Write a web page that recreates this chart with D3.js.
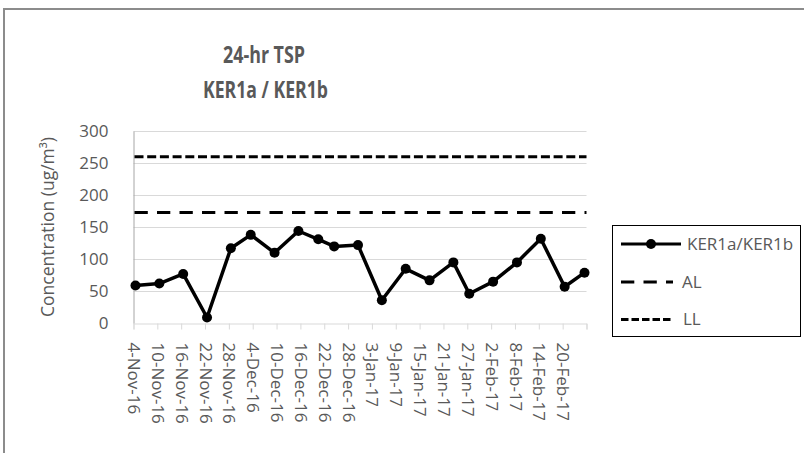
<!DOCTYPE html>
<html>
<head>
<meta charset="utf-8">
<script src="https://cdn.jsdelivr.net/npm/d3@7"></script>
<style>
    body { margin: 0; background: #fff; }
    svg { display: block; }
    text { font-family: "Open Sans", sans-serif; fill: #595959; }
</style>
</head>
<body>
<div class="chart__container"></div>
<script>
/*-------------------------------data-------------------------------*/

const sampleDates = ["2016-11-04", "2016-11-10", "2016-11-16", "2016-11-22", "2016-11-28",
    "2016-12-03", "2016-12-09", "2016-12-15", "2016-12-20", "2016-12-24", "2016-12-30",
    "2017-01-05", "2017-01-11", "2017-01-17", "2017-01-23", "2017-01-27",
    "2017-02-02", "2017-02-08", "2017-02-14", "2017-02-20", "2017-02-25"]

const tspValues = [59, 62, 77, 9, 117, 138, 110, 144, 131, 120, 122, 36, 85, 67, 95, 46, 65, 95, 132, 57, 79]

const limitNames = ["AL", "LL"]
const limitValues = [173, 260]

const yTicks = [0, 50, 100, 150, 200, 250, 300]

const axisStart = "2016-11-04"
const axisEnd = "2017-02-26"
const tickStepDays = 6

/*-------------------------------init-------------------------------*/

const size = { width: 804, height: 453 }
const plot = { left: 133.5, right: 586.5, top: 131, bottom: 323.3 }

const parse = d3.utcParse("%Y-%m-%d")
const fmt = d3.utcFormat("%-d-%b-%y")

const svg = d3.select(".chart__container").append("svg")
    .attr("width", size.width).attr("height", size.height)

// chart border
svg.append("rect")
    .attr("x", 4).attr("y", 9)
    .attr("width", 900).attr("height", 600)
    .attr("fill", "none").attr("stroke", "#8c8c8c").attr("stroke-width", 2)

const x = d3.scaleUtc().domain([parse(axisStart), parse(axisEnd)]).range([plot.left, plot.right])
const y = d3.scaleLinear().domain([0, 300]).range([plot.bottom, plot.top])

const tickDates = d3.range(0, 20).map(i => d3.utcDay.offset(parse(axisStart), i * tickStepDays))

/*-------------------------------axes-------------------------------*/

// gridlines
svg.append("g")
    .selectAll("line")
    .data(yTicks.slice(1))
    .enter()
    .append("line")
    .attr("x1", plot.left).attr("x2", plot.right)
    .attr("y1", d => Math.round(y(d)) + 0.5).attr("y2", d => Math.round(y(d)) + 0.5)
    .attr("stroke", "#d9d9d9")

const yAxis = svg.append("g")
    .attr("transform", `translate(${plot.left},0)`)
    .call(d3.axisLeft(y).tickValues(yTicks).tickSize(0).tickPadding(25))
yAxis.select(".domain").attr("stroke", "#a6a6a6")
yAxis.selectAll("text").style("font-size", "17px").attr("fill", "#595959")

const xAxis = svg.append("g")
    .attr("transform", `translate(0,${Math.round(plot.bottom) + 0.5})`)
    .call(d3.axisBottom(x).tickValues(tickDates).tickSize(6)
        .tickFormat((d, i) => i < tickDates.length - 1 ? fmt(d) : ""))
xAxis.select(".domain").attr("stroke", "#d9d9d9")
xAxis.selectAll(".tick line").attr("stroke", "#d9d9d9")
xAxis.selectAll("text")
    .style("font-size", "17px")
    .attr("fill", "#595959")
    .attr("text-anchor", "start")
    .attr("transform", "rotate(90)")
    .attr("x", 19).attr("y", 0).attr("dy", "0.35em")

svg.append("text")
    .attr("transform", "translate(54,227) rotate(-90)")
    .attr("text-anchor", "middle")
    .style("font-size", "17.5px")
    .text("Concentration (ug/m³)")

/*-------------------------------title-------------------------------*/

// the source font is narrow, so squeeze each line to its measured width
const title = svg.append("text")
    .attr("text-anchor", "middle")
    .style("font-weight", "bold")
    .style("font-size", "24px")
    .attr("fill", "#404040")
title.append("tspan").attr("x", 264).attr("y", 63)
    .attr("textLength", 82).attr("lengthAdjust", "spacingAndGlyphs").text("24-hr TSP")
title.append("tspan").attr("x", 265.5).attr("y", 97.5)
    .attr("textLength", 125).attr("lengthAdjust", "spacingAndGlyphs").text("KER1a / KER1b")

/*-------------------------------lines-------------------------------*/

const dash = { AL: "13.3,9.2", LL: "9,3.7" }

svg.append("g")
    .selectAll("line")
    .data(limitValues)
    .enter()
    .append("line")
    .attr("x1", plot.left + 1).attr("x2", plot.right)
    .attr("y1", d => y(d)).attr("y2", d => y(d))
    .attr("stroke", "#000").attr("stroke-width", 3)
    .attr("stroke-dasharray", (d, i) => dash[limitNames[i]])

const points = sampleDates.map((d, i) => ({ date: d3.utcHour.offset(parse(d), 12), value: tspValues[i] }))

const line = d3.line().x(d => x(d.date)).y(d => y(d.value))

svg.append("path")
    .datum(points)
    .attr("d", line)
    .attr("fill", "none")
    .attr("stroke", "#000")
    .attr("stroke-width", 3.5)
    .attr("stroke-linejoin", "round")

svg.append("g")
    .selectAll("circle")
    .data(points)
    .enter()
    .append("circle")
    .attr("cx", d => x(d.date))
    .attr("cy", d => y(d.value))
    .attr("r", 5)
    .attr("fill", "#000")

/*-------------------------------Legend-------------------------------*/

const legend = svg.append("g").attr("id", "legend")

legend.append("rect")
    .attr("x", 612.5).attr("y", 225.5)
    .attr("width", 188).attr("height", 111)
    .attr("fill", "#fff").attr("stroke", "#000")

const legendItems = [
    { name: "KER1a/KER1b", y: 244, dash: null, x2: 681, tx: 687 },
    { name: limitNames[0], y: 282, dash: dash.AL, x2: 673, tx: 682 },
    { name: limitNames[1], y: 319.5, dash: "7.5,3", x2: 673, tx: 683 }
]

const legendGroup = legend.selectAll(".legend__g")
    .data(legendItems)
    .enter()
    .append("g")

legendGroup.append("line")
    .attr("x1", 621).attr("x2", d => d.x2)
    .attr("y1", d => d.y).attr("y2", d => d.y)
    .attr("stroke", "#000")
    .attr("stroke-width", 3)
    .attr("stroke-dasharray", d => d.dash)

legendGroup.filter((d, i) => i === 0).append("circle")
    .attr("cx", 651).attr("cy", d => d.y).attr("r", 5).attr("fill", "#000")

legendGroup.append("text")
    .attr("x", d => d.tx)
    .attr("y", d => d.y)
    .attr("dy", "0.35em")
    .style("font-size", "17px")
    .attr("fill", "#000")
    .text(d => d.name)
</script>
</body>
</html>
